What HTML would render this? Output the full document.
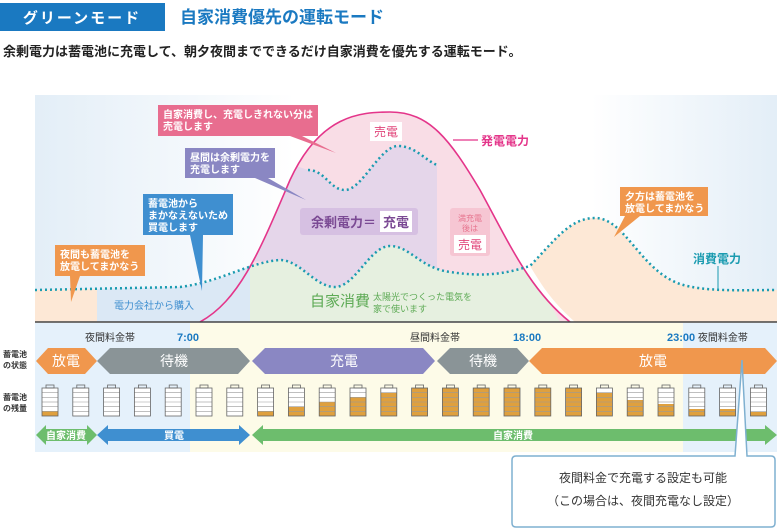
<!DOCTYPE html>
<html><head><meta charset="utf-8"><style>
body{margin:0;background:#fff;}
svg{display:block;font-family:"Liberation Sans","Noto Sans CJK JP",sans-serif;}
</style></head><body>
<svg width="780" height="530" viewBox="0 0 780 530" xmlns="http://www.w3.org/2000/svg">
<defs>
<linearGradient id="bg" x1="0" x2="1" y1="0" y2="0">
<stop offset="0" stop-color="#e3eef7"/><stop offset="0.35" stop-color="#ffffff"/><stop offset="0.75" stop-color="#ffffff"/><stop offset="1" stop-color="#e3eef7"/>
</linearGradient>
<clipPath id="gen"><path d="M200,322 C240,300 260,250 290,180 C320,115 360,112 390,112 C430,112 450,140 480,190 C510,245 530,290 570,322 Z"/></clipPath>
<g id="bo">
<rect x="4" y="-3" width="8" height="3" fill="none" stroke="#666" stroke-width="0.8"/>
<line x1="0" x2="16" y1="4.67" y2="4.67" stroke="#999" stroke-width="0.6"/>
<line x1="0" x2="16" y1="9.33" y2="9.33" stroke="#999" stroke-width="0.6"/>
<line x1="0" x2="16" y1="14" y2="14" stroke="#999" stroke-width="0.6"/>
<line x1="0" x2="16" y1="18.67" y2="18.67" stroke="#999" stroke-width="0.6"/>
<line x1="0" x2="16" y1="23.33" y2="23.33" stroke="#999" stroke-width="0.6"/>
<rect x="0" y="0" width="16" height="28" fill="none" stroke="#666" stroke-width="0.8"/>
</g>
</defs>
<!-- header -->
<rect x="0" y="3" width="165" height="28" fill="#1a79c1"/>
<text x="82" y="23" fill="#fff" font-size="15" font-weight="bold" text-anchor="middle" letter-spacing="2">グリーンモード</text>
<text x="180" y="23" fill="#1a79c1" font-size="17" font-weight="bold">自家消費優先の運転モード</text>
<text x="3" y="56" fill="#222" font-size="13" font-weight="bold">余剰電力は蓄電池に充電して、朝夕夜間までできるだけ自家消費を優先する運転モード。</text>
<!-- chart bg -->
<rect x="35" y="95" width="742" height="227" fill="url(#bg)"/>
<!-- fills -->
<path d="M200,322 C240,300 260,250 290,180 C320,115 360,112 390,112 C430,112 450,140 480,190 C510,245 530,290 570,322 Z" fill="#f9dde6"/>
<g clip-path="url(#gen)">
<path d="M250,150 L308,170 C325,170 330,190 345,190 C362,190 380,146 398,146 C415,146 425,160 437,165 L437,272 C420,268 410,246 390,246 C370,246 355,287 335,287 C315,287 300,260 280,260 L250,262 Z" fill="#e5d6ea"/>
<path d="M180,287 C220,282 250,262 280,260 C300,260 315,287 335,287 C355,287 370,246 390,246 C410,246 420,268 450,272 C490,278 510,272 530,266 L560,322 L180,322 Z" fill="#e6f0e0"/>
</g>
<path d="M35,290 L97,289 L97,322 L35,322 Z" fill="#fde8d6"/>
<path d="M97,289 L180,287 C215,283 235,272 250,266 L250,322 L97,322 Z" fill="#dbe8f5"/>
<path d="M530,266 C555,240 570,218 595,218 C625,218 640,270 680,284 C705,292 740,290 777,290 L777,322 L575,322 C550,300 540,282 530,266 Z" fill="#fde8d6"/>
<!-- boxes -->
<rect x="300" y="208" width="118" height="27" rx="3" fill="#d6c0e2"/>
<text x="311" y="227" font-size="13" fill="#7b4a94" font-weight="bold">余剰電力＝</text>
<rect x="380" y="211" width="32" height="21" fill="#fff"/>
<text x="396" y="227" font-size="13" fill="#7b4a94" font-weight="bold" text-anchor="middle">充電</text>
<rect x="450" y="208" width="40" height="48" rx="3" fill="#f6c6d3"/>
<text x="470" y="221" font-size="8" fill="#e7758f" text-anchor="middle">満充電</text>
<text x="470" y="231" font-size="8" fill="#e7758f" text-anchor="middle">後は</text>
<rect x="454" y="235" width="32" height="18" fill="#fff"/>
<text x="470" y="249" font-size="12" fill="#e0457a" text-anchor="middle">売電</text>
<rect x="370" y="122" width="32" height="19" fill="#fff"/>
<text x="386" y="136" font-size="12" fill="#e0457a" text-anchor="middle">売電</text>
<!-- lines -->
<path d="M200,322 C240,300 260,250 290,180 C320,115 360,112 390,112 C430,112 450,140 480,190 C510,245 530,290 570,322" fill="none" stroke="#e4358a" stroke-width="1.6"/>
<line x1="453" y1="140" x2="478" y2="140" stroke="#e4358a" stroke-width="1.2"/>
<text x="481" y="145" font-size="12" fill="#e4358a" font-weight="bold">発電電力</text>
<path d="M35,290 L180,287 C220,282 250,262 280,260 C300,260 315,287 335,287 C355,287 370,246 390,246 C410,246 420,268 450,272 C490,278 510,272 530,266 C555,240 570,218 595,218 C625,218 640,270 680,284 C705,292 740,290 777,290" fill="none" stroke="#1a9bb0" stroke-width="2.5" stroke-dasharray="2,3"/>
<path d="M308,170 C325,170 330,190 345,190 C362,190 380,146 398,146 C415,146 425,160 437,165" fill="none" stroke="#1a9bb0" stroke-width="2.5" stroke-dasharray="2,3"/>
<line x1="718" y1="266" x2="718" y2="290" stroke="#1a9bb0" stroke-width="1"/>
<text x="693" y="263" font-size="12" fill="#1a9bb0" font-weight="bold">消費電力</text>
<text x="114" y="309" font-size="10" fill="#3f8fd0">電力会社から購入</text>
<text x="310" y="306" font-size="15" fill="#5daa55">自家消費</text>
<text x="373" y="300" font-size="9" fill="#5daa55">太陽光でつくった電気を</text>
<text x="373" y="312" font-size="9" fill="#5daa55">家で使います</text>
<!-- callouts -->
<g font-size="10" fill="#fff" font-weight="bold">
<path d="M158,105 H318 V136 H302 L336,153 L290,136 H158 Z" fill="#e86d8f"/>
<text x="163" y="118">自家消費し、充電しきれない分は</text><text x="163" y="130">売電します</text>
<path d="M185,148 H275 V178 H268 L306,200 L255,178 H185 Z" fill="#8a87c3"/>
<text x="190" y="161">昼間は余剰電力を</text><text x="190" y="173">充電します</text>
<path d="M143,194 H233 V235 H203 L202,291 L190,235 H143 Z" fill="#3f8fd0"/>
<text x="148" y="207">蓄電池から</text><text x="148" y="219">まかなえないため</text><text x="148" y="231">買電します</text>
<path d="M55,245 H145 V276 H80 L71,302 L70,276 H55 Z" fill="#f0974d"/>
<text x="60" y="258">夜間も蓄電池を</text><text x="60" y="270">放電してまかなう</text>
<path d="M620,187 H708 V216 H640 L614,237 L625,216 H620 Z" fill="#f0974d"/>
<text x="625" y="200">夕方は蓄電池を</text><text x="625" y="212">放電してまかなう</text>
</g>
<!-- bottom section -->
<rect x="35" y="323" width="155" height="129" fill="#e5f1fb"/>
<rect x="190" y="323" width="493" height="129" fill="#fdfbe8"/>
<rect x="683" y="323" width="94" height="129" fill="#e5f1fb"/>
<line x1="35" y1="322" x2="777" y2="322" stroke="#444" stroke-width="1.5"/>
<g font-size="10" fill="#333">
<text x="85" y="341">夜間料金帯</text>
<text x="177" y="341" fill="#1a79c1" font-weight="bold" font-size="11">7:00</text>
<text x="410" y="341">昼間料金帯</text>
<text x="513" y="341" fill="#1a79c1" font-weight="bold" font-size="11">18:00</text>
<text x="667" y="341"><tspan fill="#1a79c1" font-weight="bold" font-size="11">23:00</tspan> 夜間料金帯</text>
</g>
<g font-size="8" fill="#333" font-weight="bold">
<text x="3" y="357">蓄電池</text><text x="3" y="368">の状態</text>
<text x="3" y="400">蓄電池</text><text x="3" y="411">の残量</text>
</g>
<g font-size="14" fill="#fff" text-anchor="middle">
<polygon points="36,361 48,348 85,348 97,361 85,374 48,374" fill="#f0974d"/><text x="66" y="366">放電</text>
<polygon points="97,361 110,348 238,348 250,361 238,374 110,374" fill="#8a9497"/><text x="174" y="366">待機</text>
<polygon points="252,361 265,348 423,348 435,361 423,374 265,374" fill="#8a87c3"/><text x="344" y="366">充電</text>
<polygon points="437,361 450,348 517,348 529,361 517,374 450,374" fill="#8a9497"/><text x="483" y="366">待機</text>
<polygon points="529,361 542,348 765,348 777,361 765,374 542,374" fill="#f0974d"/><text x="653" y="366">放電</text>
</g>
<!-- batteries -->
<g fill="#fff">
<rect x="42" y="388" width="16" height="28"/><rect x="42" y="411.3" width="16" height="4.7" fill="#dfa03e"/><use href="#bo" x="42" y="388"/>
<rect x="72.8" y="388" width="16" height="28"/><use href="#bo" x="72.8" y="388"/>
<rect x="103.6" y="388" width="16" height="28"/><use href="#bo" x="103.6" y="388"/>
<rect x="134.4" y="388" width="16" height="28"/><use href="#bo" x="134.4" y="388"/>
<rect x="165.2" y="388" width="16" height="28"/><use href="#bo" x="165.2" y="388"/>
<rect x="196" y="388" width="16" height="28"/><use href="#bo" x="196" y="388"/>
<rect x="226.8" y="388" width="16" height="28"/><use href="#bo" x="226.8" y="388"/>
<rect x="257.6" y="388" width="16" height="28"/><rect x="257.6" y="411.3" width="16" height="4.7" fill="#dfa03e"/><use href="#bo" x="257.6" y="388"/>
<rect x="288.4" y="388" width="16" height="28"/><rect x="288.4" y="406.7" width="16" height="9.3" fill="#dfa03e"/><use href="#bo" x="288.4" y="388"/>
<rect x="319.2" y="388" width="16" height="28"/><rect x="319.2" y="402" width="16" height="14" fill="#dfa03e"/><use href="#bo" x="319.2" y="388"/>
<rect x="350" y="388" width="16" height="28"/><rect x="350" y="397.3" width="16" height="18.7" fill="#dfa03e"/><use href="#bo" x="350" y="388"/>
<rect x="380.8" y="388" width="16" height="28"/><rect x="380.8" y="392.7" width="16" height="23.3" fill="#dfa03e"/><use href="#bo" x="380.8" y="388"/>
<rect x="411.6" y="388" width="16" height="28" fill="#dfa03e"/><use href="#bo" x="411.6" y="388"/>
<rect x="442.4" y="388" width="16" height="28" fill="#dfa03e"/><use href="#bo" x="442.4" y="388"/>
<rect x="473.2" y="388" width="16" height="28" fill="#dfa03e"/><use href="#bo" x="473.2" y="388"/>
<rect x="504" y="388" width="16" height="28" fill="#dfa03e"/><use href="#bo" x="504" y="388"/>
<rect x="534.8" y="388" width="16" height="28" fill="#dfa03e"/><use href="#bo" x="534.8" y="388"/>
<rect x="565.6" y="388" width="16" height="28" fill="#dfa03e"/><use href="#bo" x="565.6" y="388"/>
<rect x="596.4" y="388" width="16" height="28"/><rect x="596.4" y="392.7" width="16" height="23.3" fill="#dfa03e"/><use href="#bo" x="596.4" y="388"/>
<rect x="627.2" y="388" width="16" height="28"/><rect x="627.2" y="400" width="16" height="16" fill="#dfa03e"/><use href="#bo" x="627.2" y="388"/>
<rect x="658" y="388" width="16" height="28"/><rect x="658" y="404" width="16" height="12" fill="#dfa03e"/><use href="#bo" x="658" y="388"/>
<rect x="688.8" y="388" width="16" height="28"/><rect x="688.8" y="409" width="16" height="7" fill="#dfa03e"/><use href="#bo" x="688.8" y="388"/>
<rect x="719.6" y="388" width="16" height="28"/><rect x="719.6" y="409" width="16" height="7" fill="#dfa03e"/><use href="#bo" x="719.6" y="388"/>
<rect x="750.4" y="388" width="16" height="28"/><rect x="750.4" y="412" width="16" height="4" fill="#dfa03e"/><use href="#bo" x="750.4" y="388"/>
</g>
<g font-size="10" fill="#fff" font-weight="bold" text-anchor="middle">
<polygon points="36,435 46,425 46,429 87,429 87,425 97,435 87,445 87,441 46,441 46,445" fill="#6dbd6d"/><text x="66" y="439">自家消費</text>
<polygon points="97,435 108,425 108,429 239,429 239,425 250,435 239,445 239,441 108,441 108,445" fill="#3f8fd0"/><text x="174" y="439">買電</text>
<polygon points="252,435 263,425 263,429 765,429 765,425 777,435 765,445 765,441 263,441 263,445" fill="#6dbd6d"/><text x="513" y="439">自家消費</text>
</g>
<!-- bottom callout -->
<path d="M516,456 H735 L742,360 L747,456 H771 Q775,456 775,460 V523 Q775,527 771,527 H516 Q512,527 512,523 V460 Q512,456 516,456 Z" fill="#fff" stroke="#7fb0d0" stroke-width="1.5"/>
<text x="643" y="482" font-size="12" fill="#333" text-anchor="middle">夜間料金で充電する設定も可能</text>
<text x="643" y="505" font-size="12" fill="#333" text-anchor="middle">（この場合は、夜間充電なし設定）</text>
</svg>
</body></html>
